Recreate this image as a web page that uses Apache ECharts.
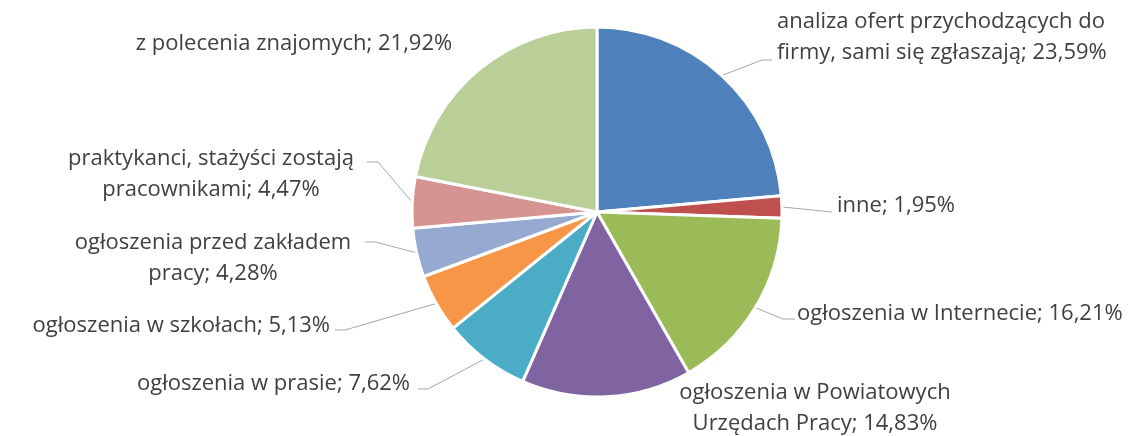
<!DOCTYPE html>
<html>
<head>
<meta charset="utf-8">
<script src="https://cdn.jsdelivr.net/npm/echarts@6/dist/echarts.min.js"></script>
<style>
html,body{margin:0;padding:0;background:#fff;}
#chart{width:1131px;height:436px;}
</style>
</head>
<body>
<div id="chart"></div>
<script>
// kategorie (z podziałem etykiet na linie) i udziały w %
var names = [
	'analiza ofert przychodzących do\nfirmy, sami się zgłaszają',
	'inne',
	'ogłoszenia w Internecie',
	'ogłoszenia w Powiatowych\nUrzędach Pracy',
	'ogłoszenia w prasie',
	'ogłoszenia w szkołach',
	'ogłoszenia przed zakładem\npracy',
	'praktykanci, stażyści zostają\npracownikami',
	'z polecenia znajomych'
];
var values = [23.59, 1.95, 16.21, 14.83, 7.62, 5.13, 4.28, 4.47, 21.92];
var colors = ['#4F81BD','#C0504D','#9BBB59','#8064A2','#4BACC6','#F79646','#95A9D1','#D59392','#BACE97'];

// położenie etykiet: [x, y, wyrównanie, łamanie linii [x,y] ... ] -- układ, nie dane
var labelPos = [
	[777, 37, 'left',   [[762,60],[772,60]]],
	[837, 206, 'left',  [[832,212],[832,212]]],
	[797, 314, 'left',  [[783,319],[795,319]]],
	[815, 408, 'center', null],
	[410, 384, 'right', [[428,389],[418,389]]],
	[330, 326, 'right', [[345,330],[335,330]]],
	[213, 258, 'center',[[375,242],[365,242]]],
	[211, 174, 'center',[[378,162],[367,162]]],
	[294, 44, 'center', null]
];

var myChart = echarts.init(document.getElementById('chart'));
var seriesData = [];
for(var i=0;i<values.length;i++){
	seriesData.push({
		name: names[i],
		value: values[i],
		itemStyle: {color: colors[i]},
		labelLine: {show: labelPos[i][3] != null}
	});
}

var option = {
	animation: false,
	series: [{
		type: 'pie',
		center: [597, 212],
		radius: 185,
		startAngle: 90,
		clockwise: true,
		avoidLabelOverlap: false,
		itemStyle: {borderColor: '#fff', borderWidth: 3},
		label: {
			show: true,
			position: 'outside',
			color: '#404040',
			fontFamily: 'Open Sans',
			fontSize: 22,
			lineHeight: 31,
			formatter: function(p){
				return p.name + '; ' + p.value.toFixed(2).replace('.', ',') + '%';
			}
		},
		labelLine: {
			show: true,
			lineStyle: {color: '#A6A6A6', width: 1}
		},
		labelLayout: function(p){
			var lp = labelPos[p.dataIndex];
			var res = {x: lp[0], y: lp[1], align: lp[2], verticalAlign: 'middle'};
			if(lp[3] && p.labelLinePoints){
				res.labelLinePoints = [p.labelLinePoints[0], lp[3][0], lp[3][1]];
			}
			return res;
		},
		data: seriesData
	}]
};
myChart.setOption(option);
</script>
</body>
</html>
